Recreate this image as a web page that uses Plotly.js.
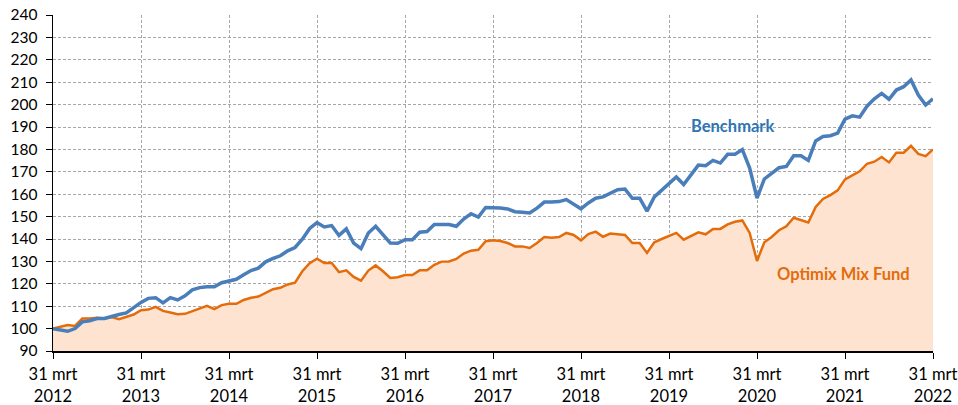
<!DOCTYPE html>
<html>
<head>
<meta charset="utf-8">
<script src="https://cdn.plot.ly/plotly-3.0.1.min.js"></script>
<style>html,body{margin:0;padding:0;background:#fff;}#chart{width:958px;height:405px;}</style>
</head>
<body>
<div id="chart"></div>
<script>
// Monthly values, 31 mrt 2012 .. 31 mrt 2022 (121 months)
var benchmark = [
  100.0, 99.5, 98.8, 100.0, 103.0, 103.5, 104.5, 104.5, 105.5, 106.3, 107.0, 109.5,
  111.7, 113.5, 113.8, 111.5, 113.8, 112.8, 114.6, 117.3, 118.3, 118.7, 118.7, 120.5,
  121.3, 122.0, 124.0, 125.9, 127.0, 129.8, 131.3, 132.5, 134.7, 136.2, 139.9, 144.7,
  147.3, 145.4, 146.0, 141.6, 144.5, 138.2, 135.7, 142.7, 145.7, 141.9, 138.2, 138.1,
  139.7, 139.7, 143.0, 143.3, 146.5, 146.5, 146.5, 145.7, 148.9, 151.3, 149.8, 154.1,
  154.1, 153.8, 153.4, 152.2, 151.9, 151.6, 153.8, 156.5, 156.5, 156.7, 157.6, 155.6,
  153.5, 156.1, 158.2, 158.8, 160.6, 162.0, 162.3, 158.2, 158.2, 152.4, 158.8, 161.7,
  164.7, 167.7, 164.3, 168.7, 173.0, 172.7, 175.1, 173.9, 177.8, 177.8, 179.9, 171.7,
  158.3, 166.8, 169.2, 171.8, 172.4, 177.2, 177.2, 175.1, 183.8, 185.8, 186.1, 187.3,
  193.5, 195.0, 194.4, 199.3, 202.6, 205.0, 202.4, 206.5, 208.0, 211.0, 204.3, 199.8,
  202.6
];
var optimix = [
  100.0, 100.7, 101.6, 101.2, 104.5, 104.5, 104.8, 104.5, 105.2, 104.2, 105.2, 106.3,
  108.2, 108.5, 109.7, 107.9, 107.2, 106.4, 106.6, 107.8, 108.7, 110.2, 108.7, 110.5,
  111.1, 111.1, 112.8, 113.8, 114.3, 116.1, 117.6, 118.2, 119.7, 120.5, 125.6, 129.2,
  131.2, 129.3, 129.3, 125.2, 126.0, 123.1, 121.4, 125.9, 128.2, 125.6, 122.6, 122.9,
  123.9, 123.9, 126.0, 126.0, 128.5, 129.9, 130.0, 131.1, 133.5, 134.8, 135.2, 139.0,
  139.4, 139.1, 138.2, 136.7, 136.7, 136.0, 138.2, 140.9, 140.6, 140.9, 142.7, 141.8,
  139.4, 142.2, 143.3, 141.0, 142.4, 142.1, 141.8, 138.2, 138.2, 133.8, 138.5, 140.0,
  141.2, 142.7, 139.7, 141.5, 143.0, 142.1, 144.5, 144.5, 146.5, 147.7, 148.3, 142.7,
  130.2, 138.5, 140.9, 143.9, 145.7, 149.5, 148.3, 147.4, 154.3, 157.9, 159.6, 161.7,
  166.6, 168.5, 170.2, 173.6, 174.5, 176.6, 174.2, 178.5, 178.5, 181.6, 178.0, 177.0,
  180.0
];
var tickLabels = ["31 mrt<br>2012","31 mrt<br>2013","31 mrt<br>2014","31 mrt<br>2015","31 mrt<br>2016",
  "31 mrt<br>2017","31 mrt<br>2018","31 mrt<br>2019","31 mrt<br>2020","31 mrt<br>2021","31 mrt<br>2022"];
var seriesNames = ["Benchmark", "Optimix Mix Fund"];

var months = benchmark.map(function(_, i){ return i; });
var tickPos = tickLabels.map(function(_, i){ return i * 12; });

var font = "Lato, 'Open Sans', sans-serif";
var gridCol = "#a6a6a6";

var traces = [
  {x: months, y: optimix, type: "scatter", mode: "lines", name: seriesNames[1],
   fill: "tozeroy", fillcolor: "#fde3d0",
   line: {color: "#e46c0a", width: 2.5}, hoverinfo: "y"},
  {x: months, y: benchmark, type: "scatter", mode: "lines", name: seriesNames[0],
   line: {color: "#4a7ebb", width: 3.5}, hoverinfo: "y"}
];

var layout = {
  width: 958, height: 405,
  margin: {l: 53, r: 25, t: 15, b: 54},
  paper_bgcolor: "#ffffff", plot_bgcolor: "#ffffff",
  showlegend: false,
  font: {family: font, size: 15, color: "#000"},
  xaxis: {
    range: [0, 120], tickvals: tickPos, ticktext: tickLabels,
    showgrid: true, gridcolor: gridCol, gridwidth: 1, griddash: "3px,2px",
    showline: true, linecolor: "#000", linewidth: 1.5,
    ticks: "outside", ticklen: 6, tickcolor: "#000", tickwidth: 1,
    zeroline: false, tickangle: 0, ticklabelstandoff: 2,
    tickfont: {family: font, size: 16.5, color: "#000"}
  },
  yaxis: {
    range: [90, 240], dtick: 10, tick0: 90,
    showgrid: true, gridcolor: gridCol, gridwidth: 1, griddash: "3px,2px",
    showline: true, linecolor: "#000", linewidth: 1.5,
    ticks: "outside", ticklen: 6, tickcolor: "#000", tickwidth: 1,
    zeroline: false, ticklabelstandoff: 5,
    tickfont: {family: font, size: 15.5, color: "#000"}
  },
  annotations: [
    {xref: "paper", yref: "paper", x: (732 - 53) / 880, y: (351 - 126) / 336,
     text: "<b>" + seriesNames[0] + "</b>", showarrow: false,
     font: {family: font, size: 16.5, color: "#2e75b6"}, xanchor: "center", yanchor: "middle"},
    {xref: "paper", yref: "paper", x: (843 - 53) / 880, y: (351 - 274) / 336,
     text: "<b>" + seriesNames[1] + "</b>", showarrow: false,
     font: {family: font, size: 16.5, color: "#e46c0a"}, xanchor: "center", yanchor: "middle"}
  ]
};

Plotly.newPlot("chart", traces, layout, {displayModeBar: false, staticPlot: true});
</script>
</body>
</html>
